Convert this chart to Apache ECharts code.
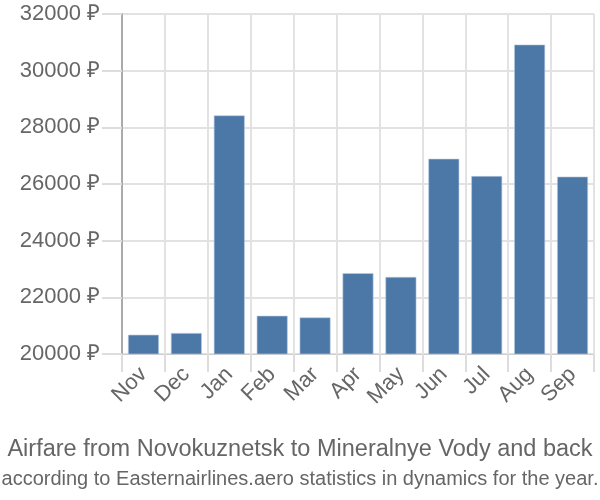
<!DOCTYPE html>
<html><head><meta charset="utf-8">
<script src="https://cdn.jsdelivr.net/npm/echarts@6/dist/echarts.min.js"></script>
<style>html,body{margin:0;padding:0;background:#fff}#c{width:600px;height:500px}</style>
</head><body><div id="c"></div>
<script>
const categories = ['Nov','Dec','Jan','Feb','Mar','Apr','May','Jun','Jul','Aug','Sep'];
const prices = [20680, 20740, 28420, 21350, 21290, 22850, 22720, 26890, 26280, 30920, 26260];
const titleText = 'Airfare from Novokuznetsk to Mineralnye Vody and back';
const subtitleText = 'according to Easternairlines.aero statistics in dynamics for the year.';

const chart = echarts.init(document.getElementById('c'), null, {renderer:'canvas'});
chart.setOption({
  animation: false,
  textStyle: {fontFamily: 'Liberation Sans, Arial, sans-serif'},
  title: [{
    text: titleText, left: 'center', top: 433,
    textStyle: {fontSize: 23.5, fontWeight: 'normal', color: '#666', fontFamily: 'Liberation Sans'}
  },{
    text: subtitleText, left: 'center', top: 464,
    textStyle: {fontSize: 20, fontWeight: 'normal', color: '#666', fontFamily: 'Liberation Sans'}
  }],
  grid: {left: 122, right: 6, top: 14, bottom: 146, containLabel: false},
  xAxis: {
    type: 'category', data: categories,
    axisLine: {show: true, lineStyle: {color: '#ccc', width: 1}},
    axisTick: {show: true, length: 18, lineStyle: {color: '#ddd', width: 2}},
    splitLine: {show: true, lineStyle: {color: '#e2e2e2', width: 2}},
    axisLabel: {rotate: 45, margin: 17, fontSize: 22, color: '#666', fontFamily: 'Liberation Sans'}
  },
  yAxis: {
    type: 'value', min: 20000, max: 32000, interval: 2000,
    axisLine: {show: true, lineStyle: {color: '#aaa', width: 2}},
    axisTick: {show: true, length: 20, lineStyle: {color: '#ddd', width: 2}},
    splitLine: {show: true, lineStyle: {color: '#e2e2e2', width: 2}},
    axisLabel: {formatter: function(v){ return v + ' ₽'; }, margin: 22, fontSize: 22, color: '#666', fontFamily: 'Liberation Sans'}
  },
  series: [{
    type: 'bar', data: prices, barCategoryGap: '28%',
    itemStyle: {color: '#4c78a8', borderColor: '#b9cbe0', borderWidth: 0.6}
  }]
});
</script></body></html>
